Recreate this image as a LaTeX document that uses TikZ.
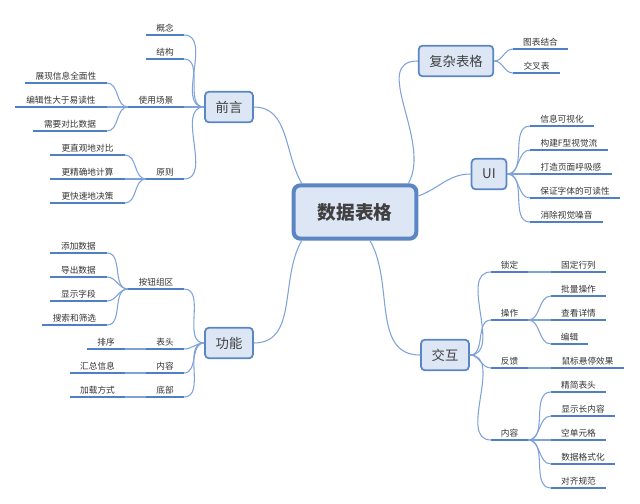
\documentclass[tikz,border=0pt]{standalone}
\usepackage{fontspec}
\setmainfont{Noto Sans CJK SC}
\usetikzlibrary{calc}
\definecolor{mapline}{HTML}{7FA3D8}
\definecolor{mapbar}{HTML}{4F7FC4}
\definecolor{mapfill}{HTML}{DCE6F4}
\definecolor{mapedge}{HTML}{5A86C4}
\tikzset{
    topic-box/.style={
        draw=mapedge, fill=mapfill, rounded corners=3pt, line width=1.3pt,
        minimum height=23pt, inner xsep=8pt, font=\fontsize{10}{12}\selectfont, text=black!75
    },
    root-box/.style={
        topic-box, line width=3pt, minimum width=92pt, minimum height=40pt,
        font=\fontsize{14}{16}\selectfont\bfseries, text=black!75, rounded corners=5pt
    },
    leaf-text/.style={anchor=south, inner sep=2pt, font=\fontsize{6.5}{8}\selectfont, text=black!80},
    leaf-bar/.style={draw=mapbar, line width=1.6pt},
    link/.style={draw=mapline, line width=0.8pt},
}
% name, left x, right x, y, text
\newcommand{\leaf}[5]{%
    \coordinate (#1-l) at (#2,#4);
    \coordinate (#1-r) at (#3,#4);
    \node[leaf-text] (#1) at ($(#1-l)!.5!(#1-r)$) {#5};
    \draw[leaf-bar] (#1-l) -- (#1-r);
}

\begin{document}
\begin{tikzpicture}[x=0.75pt, y=-0.75pt]
        \useasboundingbox (0,0) rectangle (640,504);

        % MAIN TOPICS
        \node[root-box]  (ROOT) at (355,212) {数据表格};
        \node[topic-box] (QY)   at (229,107) {前言};
        \node[topic-box] (GN)   at (229,343) {功能};
        \node[topic-box] (FZ)   at (456,61)  {复杂表格};
        \node[topic-box] (UI)   at (489,174) {UI};
        \node[topic-box] (JH)   at (445,355) {交互};

        % ROOT CONNECTIONS
        \draw[link] (QY.east) to[out=0, in=120] ($(ROOT.north west)+(10,0)$);
        \draw[link] (GN.east) to[out=0, in=240] ($(ROOT.south west)+(10,0)$);
        \draw[link] (FZ.west) to[out=180, in=60] ($(ROOT.north east)+(-10,0)$);
        \draw[link] (UI.west) to[out=180, in=20] ($(ROOT.east)+(0,-16)$);
        \draw[link] (JH.west) to[out=180, in=300] ($(ROOT.south)+(15,0)$);

        % QIANYAN
        \leaf{GNIAN}{146}{184}{35}{概念}
        \leaf{JG}{146}{184}{59}{结构}
        \leaf{CJ}{128}{184}{107}{使用场景}
        \leaf{YZ}{146}{184}{179}{原则}
        \leaf{CJ1}{25}{107}{83}{展现信息全面性}
        \leaf{CJ2}{15}{107}{107}{编辑性大于易读性}
        \leaf{CJ3}{33}{107}{131}{需要对比数据}
        \leaf{YZ1}{50}{125}{155}{更直观地对比}
        \leaf{YZ2}{50}{125}{179}{更精确地计算}
        \leaf{YZ3}{50}{125}{203}{更快速地决策}
        \foreach \n in {GNIAN, JG, CJ, YZ}
            \draw[link] (QY.west) to[out=180, in=0] (\n-r);
        \foreach \n in {CJ1, CJ2, CJ3}
            \draw[link] (CJ-l) to[out=180, in=0] (\n-r);
        \foreach \n in {YZ1, YZ2, YZ3}
            \draw[link] (YZ-l) to[out=180, in=0] (\n-r);

        % GONGNENG
        \leaf{AN}{128}{184}{289}{按钮组区}
        \leaf{BT}{146}{184}{349}{表头}
        \leaf{NR}{146}{184}{373}{内容}
        \leaf{DB}{146}{184}{397}{底部}
        \leaf{AN1}{50}{107}{253}{添加数据}
        \leaf{AN2}{50}{107}{277}{导出数据}
        \leaf{AN3}{50}{107}{301}{显示字段}
        \leaf{AN4}{42}{107}{325}{搜索和筛选}
        \leaf{BT1}{87}{125}{349}{排序}
        \leaf{NR1}{70}{125}{373}{汇总信息}
        \leaf{DB1}{70}{125}{397}{加载方式}
        \foreach \n in {AN, BT, NR, DB}
            \draw[link] (GN.west) to[out=180, in=0] (\n-r);
        \foreach \n in {AN1, AN2, AN3, AN4}
            \draw[link] (AN-l) to[out=180, in=0] (\n-r);
        \draw[link] (BT-l) -- (BT1-r);
        \draw[link] (NR-l) -- (NR1-r);
        \draw[link] (DB-l) -- (DB1-r);

        % FUZA BIAOGE
        \leaf{FZ1}{513}{568}{49}{图表结合}
        \leaf{FZ2}{513}{560}{73}{交叉表}
        \foreach \n in {FZ1, FZ2}
            \draw[link] (FZ.east) to[out=0, in=180] (\n-l);

        % UI
        \leaf{UI1}{530}{594}{126}{信息可视化}
        \leaf{UI2}{530}{608}{150}{构建F型视觉流}
        \leaf{UI3}{530}{612}{174}{打造页面呼吸感}
        \leaf{UI4}{530}{620}{198}{保证字体的可读性}
        \leaf{UI5}{530}{603}{222}{消除视觉噪音}
        \foreach \n in {UI1, UI2, UI3, UI4, UI5}
            \draw[link] (UI.east) to[out=0, in=180] (\n-l);

        % JIAOHU
        \leaf{SD}{491}{528}{272}{锁定}
        \leaf{CZ}{491}{528}{320}{操作}
        \leaf{FK}{491}{528}{368}{反馈}
        \leaf{NRR}{491}{528}{440}{内容}
        \leaf{SD1}{551}{606}{272}{固定行列}
        \leaf{CZ1}{551}{606}{296}{批量操作}
        \leaf{CZ2}{551}{606}{320}{查看详情}
        \leaf{CZ3}{551}{588}{344}{编辑}
        \leaf{FK1}{551}{624}{368}{鼠标悬停效果}
        \leaf{NRR1}{551}{606}{392}{精简表头}
        \leaf{NRR2}{551}{615}{416}{显示长内容}
        \leaf{NRR3}{551}{606}{440}{空单元格}
        \leaf{NRR4}{551}{615}{464}{数据格式化}
        \leaf{NRR5}{551}{606}{488}{对齐规范}
        \foreach \n in {SD, CZ, FK, NRR}
            \draw[link] (JH.east) to[out=0, in=180] (\n-l);
        \draw[link] (SD-r) -- (SD1-l);
        \draw[link] (FK-r) -- (FK1-l);
        \foreach \n in {CZ1, CZ2, CZ3}
            \draw[link] (CZ-r) to[out=0, in=180] (\n-l);
        \foreach \n in {NRR1, NRR2, NRR3, NRR4, NRR5}
            \draw[link] (NRR-r) to[out=0, in=180] (\n-l);

\end{tikzpicture}
\end{document}
